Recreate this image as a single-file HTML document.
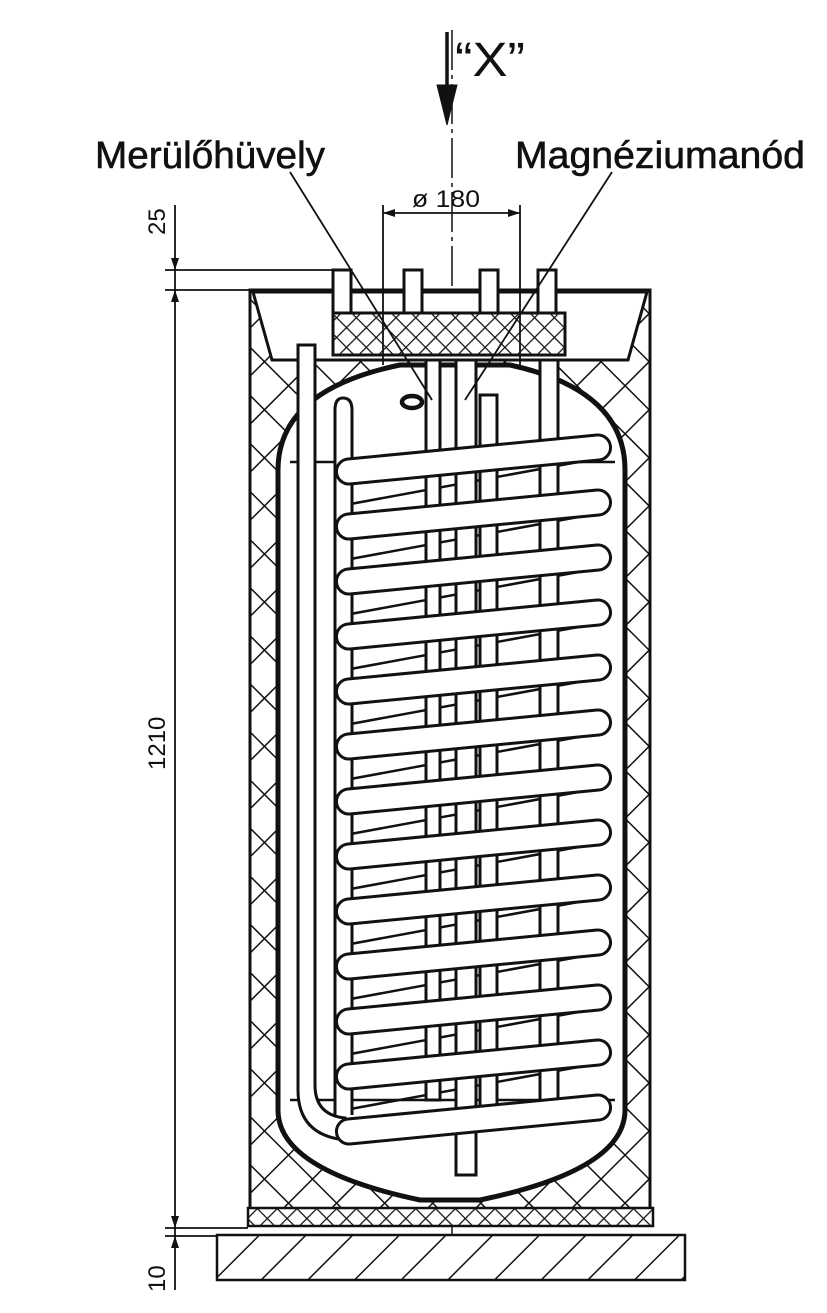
<!DOCTYPE html>
<html><head><meta charset="utf-8"><style>html,body{margin:0;padding:0;background:#fff}svg{display:block}</style></head><body>
<svg width="827" height="1313" viewBox="0 0 827 1313" xmlns="http://www.w3.org/2000/svg" font-family="Liberation Sans, sans-serif">
<defs>
<pattern id="xh" width="34" height="34" patternUnits="userSpaceOnUse" patternTransform="rotate(45)">
<rect width="34" height="34" fill="#fff"/><line x1="0" y1="0" x2="0" y2="34" stroke="#111" stroke-width="3"/><line x1="0" y1="0" x2="34" y2="0" stroke="#111" stroke-width="3"/></pattern>
<pattern id="xs" width="14" height="14" patternUnits="userSpaceOnUse" patternTransform="rotate(45)">
<rect width="14" height="14" fill="#fff"/><line x1="0" y1="0" x2="0" y2="14" stroke="#111" stroke-width="2.5"/><line x1="0" y1="0" x2="14" y2="0" stroke="#111" stroke-width="2.5"/></pattern>
<pattern id="hh" width="33" height="33" patternUnits="userSpaceOnUse" patternTransform="rotate(45)">
<rect width="33" height="33" fill="#fff"/><line x1="0" y1="0" x2="0" y2="33" stroke="#111" stroke-width="3"/></pattern>
<path id="tb" d="M348 459 L597 435 A12.5 12.5 0 0 1 599 460 L350 484 A12.5 12.5 0 0 1 348 459 Z"/>
</defs>
<g stroke="#111" fill="none">
<line x1="452" y1="30" x2="452" y2="1255" stroke-width="1.5" stroke-dasharray="40 5 4 5"/>
<line x1="447" y1="32" x2="447" y2="95" stroke-width="3.5"/>
<path d="M437 85 L457 85 L447 125 Z" fill="#111"/>
<rect x="217" y="1235" width="468" height="45" fill="url(#hh)" stroke-width="2.5"/>
<rect x="250" y="290" width="400" height="920" fill="url(#xh)" stroke-width="3"/>
<rect x="248" y="1208" width="405" height="18" fill="url(#xs)" stroke-width="2.5"/>
<path d="M253 292 L647 292 L628 360 L272 360 Z" fill="#fff" stroke-width="3"/>
<g stroke-width="3" fill="#fff">
<rect x="333" y="270" width="18" height="45"/><rect x="404" y="270" width="18" height="45"/><rect x="480" y="270" width="18" height="45"/><rect x="538" y="270" width="18" height="45"/>
</g>
<rect x="333" y="313" width="232" height="42" fill="url(#xs)" stroke-width="3"/>
<path d="M278 470 Q278 390 400 365 L510 365 Q625 390 625 470 L625 1110 Q625 1170 480 1200 L420 1200 Q278 1170 278 1110 Z" fill="#fff" stroke-width="5"/>
<line x1="290" y1="462" x2="615" y2="462" stroke-width="2.5"/>
<line x1="290" y1="1100" x2="615" y2="1100" stroke-width="2.5"/>
<g stroke-width="2.5">
<path d="M600 458 L345 505 M600 513 L345 560 M600 568 L345 615 M600 623 L345 670 M600 678 L345 725 M600 733 L345 780 M600 788 L345 835 M600 843 L345 890 M600 898 L345 945 M600 953 L345 1000 M600 1008 L345 1055 M600 1063 L345 1110"/>
</g>
<g stroke-width="3" fill="#fff">
<rect x="426" y="360" width="14" height="740"/>
<rect x="480" y="395" width="17" height="720"/>
<rect x="540" y="360" width="18" height="750"/>
<rect x="456" y="360" width="20" height="815"/>
<path d="M335 1115 L335 410 Q335 398 343 398 Q352 398 352 410 L352 1115"/>
<path d="M298 345 L315 345 L315 1085 Q315 1115 345 1118 L345 1140 Q298 1135 298 1090 Z"/>
</g>
<ellipse cx="412" cy="402" rx="10" ry="6" stroke-width="4.5"/>
<g stroke-width="3" fill="#fff">
<use href="#tb"/>
<use href="#tb" y="55"/><use href="#tb" y="110"/><use href="#tb" y="165"/><use href="#tb" y="220"/>
<use href="#tb" y="275"/><use href="#tb" y="330"/><use href="#tb" y="385"/><use href="#tb" y="440"/>
<use href="#tb" y="495"/><use href="#tb" y="550"/><use href="#tb" y="605"/><use href="#tb" y="660"/>
</g>
<g stroke-width="1.8">
<line x1="175" y1="205" x2="175" y2="1290"/>
<line x1="165" y1="270" x2="335" y2="270"/><line x1="165" y1="290" x2="250" y2="290"/>
<line x1="165" y1="1228" x2="248" y2="1228"/><line x1="165" y1="1236" x2="217" y2="1236"/>
<line x1="383" y1="205" x2="383" y2="365"/><line x1="520" y1="205" x2="520" y2="365"/>
<line x1="383" y1="213" x2="520" y2="213"/>
<line x1="290" y1="172" x2="432" y2="400"/><line x1="612" y1="172" x2="465" y2="400"/>
</g>
<g fill="#111" stroke="none">
<path d="M383 213 L395 209 L395 217 Z"/><path d="M520 213 L508 209 L508 217 Z"/>
<path d="M175 270 L171 258 L179 258 Z"/><path d="M175 290 L171 302 L179 302 Z"/>
<path d="M175 1228 L171 1216 L179 1216 Z"/><path d="M175 1236 L171 1248 L179 1248 Z"/>
</g>
</g>
<g fill="#111">
<text x="455" y="76" font-size="48" textLength="70" lengthAdjust="spacingAndGlyphs">“X”</text>
<text x="95" y="168" font-size="38" textLength="230" lengthAdjust="spacingAndGlyphs" stroke="#111" stroke-width="0.6">Merülőhüvely</text>
<text x="515" y="168" font-size="38" textLength="290" lengthAdjust="spacingAndGlyphs" stroke="#111" stroke-width="0.6">Magnéziumanód</text>
<text x="412" y="207" font-size="24" textLength="68" lengthAdjust="spacingAndGlyphs">ø 180</text>
<text transform="translate(165,235) rotate(-90)" font-size="24">25</text>
<text transform="translate(165,770) rotate(-90)" font-size="24">1210</text>
<text transform="translate(165,1292) rotate(-90)" font-size="24">10</text>
</g>
</svg>
</body></html>
